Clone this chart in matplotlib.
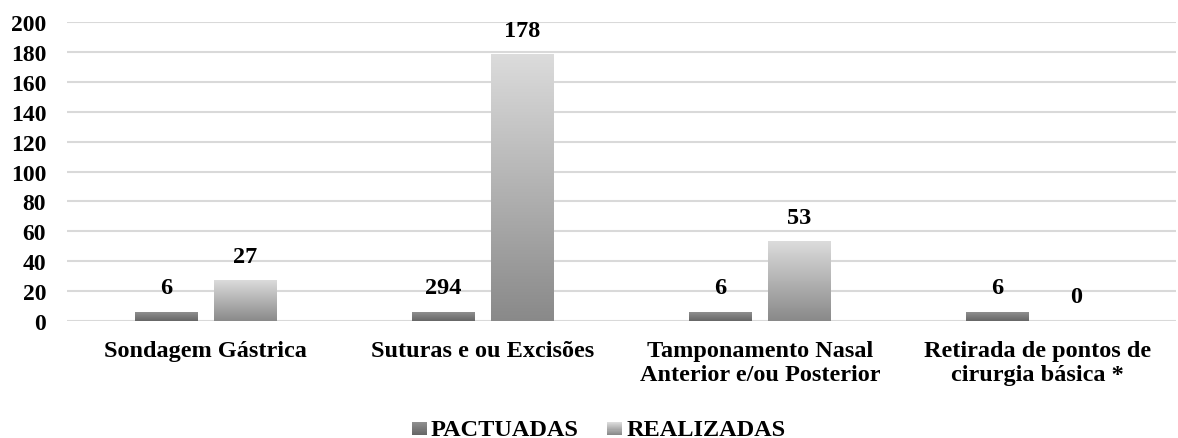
import numpy as np
import matplotlib
matplotlib.use("Agg")
import matplotlib.pyplot as plt
from matplotlib.patches import Rectangle
from matplotlib.legend_handler import HandlerBase

categories = ["Sondagem Gástrica", "Suturas e ou Excisões",
              "Tamponamento Nasal\nAnterior e/ou Posterior",
              "Retirada de pontos de\ncirurgia básica *"]
pactuadas = [6, 6, 6, 6]
pactuadas_labels = ["6", "294", "6", "6"]
realizadas = [27, 178, 53, 0]
realizadas_labels = ["27", "178", "53", "0"]
series_names = ["PACTUADAS", "REALIZADAS"]
yticks = [0, 20, 40, 60, 80, 100, 120, 140, 160, 180, 200]

plt.rcParams['font.family'] = ['Liberation Serif', 'DejaVu Serif']
plt.rcParams['font.weight'] = 'bold'

fig = plt.figure(figsize=(11.78, 4.39), dpi=100)
ax = fig.add_axes([0.0569, 0.2665, 0.9411, 0.6811])

grad_pact = ((0.56, 0.56, 0.56), (0.40, 0.40, 0.40))
grad_real = ((0.86, 0.86, 0.86), (0.54, 0.54, 0.54))

def grad_img(c_top, c_bot, n=64):
    t = np.linspace(0, 1, n)[:, None]
    top = np.array(c_top)[None, :]
    bot = np.array(c_bot)[None, :]
    col = top * (1 - t) + bot * t
    return col[:, None, :]

FS = 17.5
bw = 0.227
off = 0.1425
x = np.arange(len(categories))
for i in range(len(categories)):
    for val, lab, dx, g in ((pactuadas[i], pactuadas_labels[i], -off, grad_pact),
                            (realizadas[i], realizadas_labels[i], off, grad_real)):
        xc = x[i] + dx
        if val > 0:
            ax.imshow(grad_img(*g), extent=(xc - bw / 2, xc + bw / 2, 0, val),
                      aspect='auto', origin='upper', zorder=3, interpolation='bilinear')
        ax.annotate(lab, (xc, val), xytext=(0, 10), textcoords='offset points',
                    ha='center', va='bottom', fontsize=FS, fontweight='bold', zorder=4)

ax.set_xlim(-0.5, len(categories) - 0.5)
ax.set_ylim(0, 200)
ax.set_yticks(yticks)
ax.set_yticklabels([str(v) for v in yticks], fontsize=17, fontweight='bold')
ax.set_xticks(x)
ax.set_xticklabels(categories, fontsize=FS, fontweight='bold', linespacing=1.15)
ax.tick_params(axis='both', length=0)
ax.tick_params(axis='x', pad=14)
ax.tick_params(axis='y', pad=15)
ax.grid(axis='y', color='#d9d9d9', linewidth=1.5, zorder=0)
ax.set_axisbelow(True)
for s in ax.spines.values():
    s.set_visible(False)


class GradHandler(HandlerBase):
    def __init__(self, g):
        super().__init__()
        self.g = g

    def create_artists(self, legend, orig_handle, xdescent, ydescent, width,
                       height, fontsize, trans):
        arts = []
        n = 12
        w = 0.62 * fontsize
        s = 0.52 * fontsize
        x0 = xdescent + width - w
        y0 = -ydescent + (height - s) / 2 - 0.08 * fontsize
        for k in range(n):
            t = k / (n - 1)
            c = tuple(self.g[0][j] * t + self.g[1][j] * (1 - t) for j in range(3))
            r = Rectangle((x0, y0 + s * k / n), w, s / n + 0.3,
                          facecolor=c, edgecolor='none', transform=trans)
            arts.append(r)
        return arts


h1 = Rectangle((0, 0), 1, 1)
h2 = Rectangle((0, 0), 1, 1)
fig.legend([h1, h2], series_names, loc='center', bbox_to_anchor=(0.508, 1 - 430 / 439),
           ncol=2, frameon=False, prop={'size': FS, 'weight': 'bold'},
           handler_map={h1: GradHandler(grad_pact), h2: GradHandler(grad_real)},
           handlelength=0.62, handletextpad=0.15, columnspacing=1.2)

fig.savefig("out.png", dpi=100)
